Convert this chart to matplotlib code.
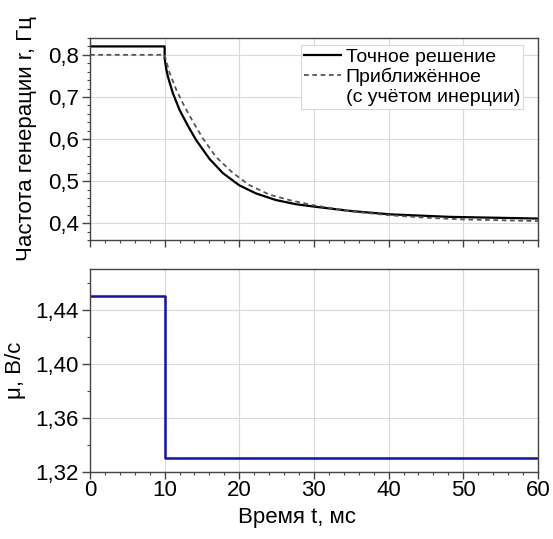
import matplotlib
matplotlib.use("Agg")
import matplotlib.pyplot as plt
from matplotlib.ticker import MultipleLocator, FuncFormatter
from matplotlib.lines import Line2D

plt.rcParams['font.family'] = ['Liberation Sans', 'DejaVu Sans']

# Exact solution
t_exact = [0, 10, 10, 10.2, 10.44, 11.1, 12.0, 13.1, 14.2, 16.0, 17.8, 20.0, 22.2, 24.9, 27.6, 30.2, 34.9, 40.2, 48.2, 60]
r_exact = [0.820, 0.820, 0.792, 0.768, 0.748, 0.709, 0.669, 0.632, 0.598, 0.553, 0.519, 0.490, 0.471, 0.455, 0.445, 0.439, 0.429, 0.421, 0.415, 0.411]

# Approximate solution (with inertia)
t_appr = [0, 10, 10.3, 10.67, 11.56, 12.67, 13.8, 15.1, 16.9, 19.1, 21.3, 24.0, 26.7, 29.8, 35, 40, 45, 50, 55, 60]
r_appr = [0.800, 0.800, 0.780, 0.757, 0.717, 0.677, 0.641, 0.602, 0.557, 0.520, 0.491, 0.468, 0.455, 0.443, 0.428, 0.419, 0.413, 0.409, 0.407, 0.405]

# Control parameter mu
t_mu = [0, 10, 10, 60]
mu = [1.45, 1.45, 1.33, 1.33]

legend_labels = ['Точное решение', 'Приближённое', '(с учётом инерции)']

fig = plt.figure(figsize=(5.53, 5.39), dpi=100)
ax1 = fig.add_axes([0.1627, 0.5547, 0.810, 0.3748])
ax2 = fig.add_axes([0.1627, 0.1243, 0.810, 0.3766])

l1, = ax1.plot(t_exact, r_exact, color='black', lw=1.6)
l2, = ax1.plot(t_appr, r_appr, color='#555555', lw=1.3, ls=(0, (2.6, 2.0)))
blank = Line2D([], [], color='none')
ax1.set_xlim(0, 60)
ax1.set_ylim(0.36, 0.84)
ax1.xaxis.set_major_locator(MultipleLocator(10))
ax1.xaxis.set_minor_locator(MultipleLocator(2))
ax1.yaxis.set_major_locator(MultipleLocator(0.1))
ax1.yaxis.set_minor_locator(MultipleLocator(0.02))
ax1.yaxis.set_major_formatter(FuncFormatter(lambda v, p: ('%.1f' % v).replace('.', ',')))
ax1.tick_params(axis='x', labelbottom=False)
ax1.set_ylabel('Частота генерации r, Гц', fontsize=16)
ax1.yaxis.set_label_coords(-0.118, 0.5)
leg = ax1.legend([l1, l2, blank], legend_labels, loc='upper right', fontsize=14,
                 frameon=True, fancybox=False, edgecolor='#d8d8d8', framealpha=1,
                 handlelength=1.9, handletextpad=0.25, borderpad=0.15,
                 labelspacing=0.12, borderaxespad=0,
                 bbox_to_anchor=(0.967, 0.965))
leg.get_frame().set_linewidth(0.8)

ax2.plot(t_mu, mu, color='#1010b8', lw=1.8)
ax2.set_xlim(0, 60)
ax2.set_ylim(1.32, 1.47)
ax2.xaxis.set_major_locator(MultipleLocator(10))
ax2.xaxis.set_minor_locator(MultipleLocator(2))
ax2.yaxis.set_major_locator(MultipleLocator(0.04))
ax2.yaxis.set_minor_locator(MultipleLocator(0.02))
ax2.yaxis.set_major_formatter(FuncFormatter(lambda v, p: ('%.2f' % v).replace('.', ',')))
ax2.set_ylabel('μ, В/с', fontsize=16)
ax2.yaxis.set_label_coords(-0.143, 0.5)
ax2.set_xlabel('Время t, мс', fontsize=16)
ax2.xaxis.set_label_coords(0.462, -0.170)

for ax in (ax1, ax2):
    ax.grid(True, which='major', color='#dadada', lw=0.8)
    ax.set_axisbelow(True)
    for s in ax.spines.values():
        s.set_color('#444444')
        s.set_linewidth(1.0)
    ax.tick_params(which='major', length=5, width=1, color='#444444', labelsize=16)
    ax.tick_params(which='minor', length=2.5, width=0.8, color='#444444')
    ax.tick_params(axis='x', which='major', pad=1)
    ax.tick_params(axis='y', which='major', length=6, pad=2)

fig.savefig('out.png', dpi=100)
